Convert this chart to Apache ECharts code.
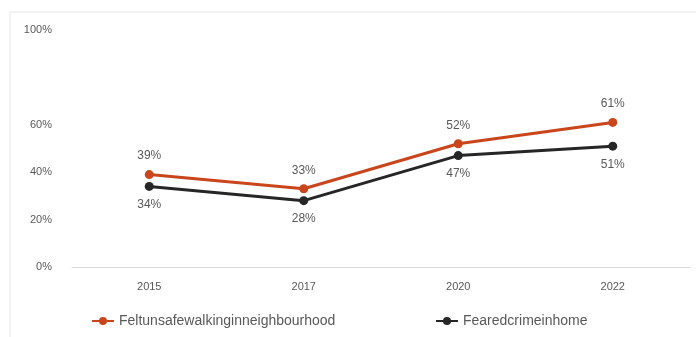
<!DOCTYPE html>
<html>
<head>
<meta charset="utf-8">
<script src="https://cdn.jsdelivr.net/npm/echarts@6/dist/echarts.min.js"></script>
<style>
html,body{margin:0;padding:0;background:#fff;}
#main{width:696px;height:337px;}
</style>
</head>
<body>
<div id="main"></div>
<script>
// data
var years = ['2015', '2017', '2020', '2022'];
var unsafeWalking = [39, 33, 52, 61];
var fearedCrime = [34, 28, 47, 51];
var seriesNames = ['Feltunsafewalkinginneighbourhood', 'Fearedcrimeinhome'];
var yTicks = [0, 20, 40, 60, 100];

var font = '"Liberation Sans Narrow", "Liberation Sans", sans-serif';
var grey = '#595959';

var myChart = echarts.init(document.getElementById('main'));
var option = {
    animation: false,
    graphic: [{
        type: 'rect',
        shape: { x: 10, y: 12, width: 700, height: 340 },
        style: { fill: 'none', stroke: '#e6e6e6', lineWidth: 1 }
    }],
    grid: { left: 72, right: 6, top: 30, bottom: 70 },
    legend: [{
        data: [seriesNames[0]],
        left: 86, top: 309,
        itemWidth: 22, itemHeight: 10, itemGap: 4,
        textStyle: { fontFamily: font, fontSize: 14, color: grey }
    }, {
        data: [seriesNames[1]],
        left: 430, top: 309,
        itemWidth: 22, itemHeight: 10,
        textStyle: { fontFamily: font, fontSize: 14, color: grey }
    }],
    xAxis: {
        type: 'category',
        data: years,
        boundaryGap: true,
        axisLine: { lineStyle: { color: '#d9d9d9', width: 1 } },
        axisTick: { show: false },
        axisLabel: { fontFamily: font, fontSize: 11, color: grey, margin: 14 }
    },
    yAxis: {
        type: 'value',
        min: 0, max: 100, interval: 20,
        splitLine: { show: false },
        axisLine: { show: false },
        axisTick: { show: false },
        axisLabel: {
            fontFamily: font, fontSize: 11, color: grey, margin: 20,
            formatter: function (v) {
                return yTicks.indexOf(v) >= 0 ? v + '%' : '';
            }
        }
    },
    series: [{
        name: seriesNames[0],
        type: 'line',
        data: unsafeWalking,
        symbol: 'circle',
        symbolSize: 9,
        color: '#C9461D',
        lineStyle: { width: 3 },
        label: {
            show: true, position: 'top', distance: 8,
            fontFamily: font, fontSize: 12, color: grey,
            formatter: '{c}%'
        }
    }, {
        name: seriesNames[1],
        type: 'line',
        data: fearedCrime,
        symbol: 'circle',
        symbolSize: 9,
        color: '#262626',
        lineStyle: { width: 3 },
        label: {
            show: true, position: 'bottom', distance: 8,
            fontFamily: font, fontSize: 12, color: grey,
            formatter: '{c}%'
        }
    }]
};
myChart.setOption(option);
</script>
</body>
</html>
